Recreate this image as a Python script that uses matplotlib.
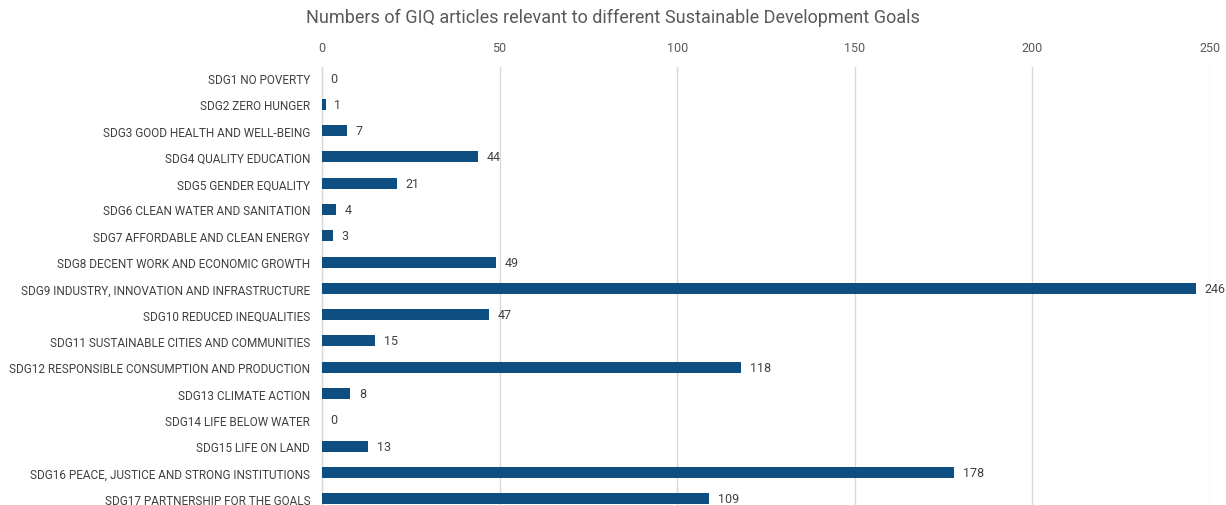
import matplotlib
matplotlib.use("Agg")
import matplotlib.pyplot as plt

categories = [
    "SDG1 NO POVERTY",
    "SDG2 ZERO HUNGER",
    "SDG3 GOOD HEALTH AND WELL-BEING",
    "SDG4 QUALITY EDUCATION",
    "SDG5 GENDER EQUALITY",
    "SDG6 CLEAN WATER AND SANITATION",
    "SDG7 AFFORDABLE AND CLEAN ENERGY",
    "SDG8 DECENT WORK AND ECONOMIC GROWTH",
    "SDG9 INDUSTRY, INNOVATION AND INFRASTRUCTURE",
    "SDG10 REDUCED INEQUALITIES",
    "SDG11 SUSTAINABLE CITIES AND COMMUNITIES",
    "SDG12 RESPONSIBLE CONSUMPTION AND PRODUCTION",
    "SDG13 CLIMATE ACTION",
    "SDG14 LIFE BELOW WATER",
    "SDG15 LIFE ON LAND",
    "SDG16 PEACE, JUSTICE AND STRONG INSTITUTIONS",
    "SDG17 PARTNERSHIP FOR THE GOALS",
]
values = [0, 1, 7, 44, 21, 4, 3, 49, 246, 47, 15, 118, 8, 0, 13, 178, 109]
xticks = [0, 50, 100, 150, 200, 250]
title = "Numbers of GIQ articles relevant to different Sustainable Development Goals"

plt.rcParams["font.family"] = ["Roboto", "DejaVu Sans"]

W, H = 1226, 506
fig = plt.figure(figsize=(W / 100, H / 100), dpi=100)
ax = fig.add_axes([322 / W, 0, (1210 - 322) / W, 438 / H])

bar_color = "#0E4E80"
txt = "#595959"
ypos = list(range(len(categories)))
ax.barh(ypos, values, height=0.42, color=bar_color, zorder=3)
for y, v in zip(ypos, values):
    ax.text(v + 2.4, y, str(v), va="center", ha="left", fontsize=9, color="#404040")

ax.set_xlim(0, 250)
ax.set_ylim(16.24, -0.42)
ax.set_yticks(ypos)
ax.set_yticklabels(categories, fontsize=8.5, color="#404040")
ax.set_xticks(xticks)
ax.xaxis.tick_top()
ax.tick_params(axis="x", length=0, pad=9.5, labelsize=9, labelcolor=txt)
ax.tick_params(axis="y", length=0, pad=8.5)
ax.grid(axis="x", color="#D9D9D9", linewidth=1, zorder=0)
for s in ["top", "right", "bottom"]:
    ax.spines[s].set_visible(False)
ax.spines["left"].set_color("#D9D9D9")
ax.spines["left"].set_linewidth(1)

fig.text(0.5, 1 - 18 / H, title, ha="center", va="center", fontsize=13, color=txt)

fig.savefig("out.png", dpi=100)
